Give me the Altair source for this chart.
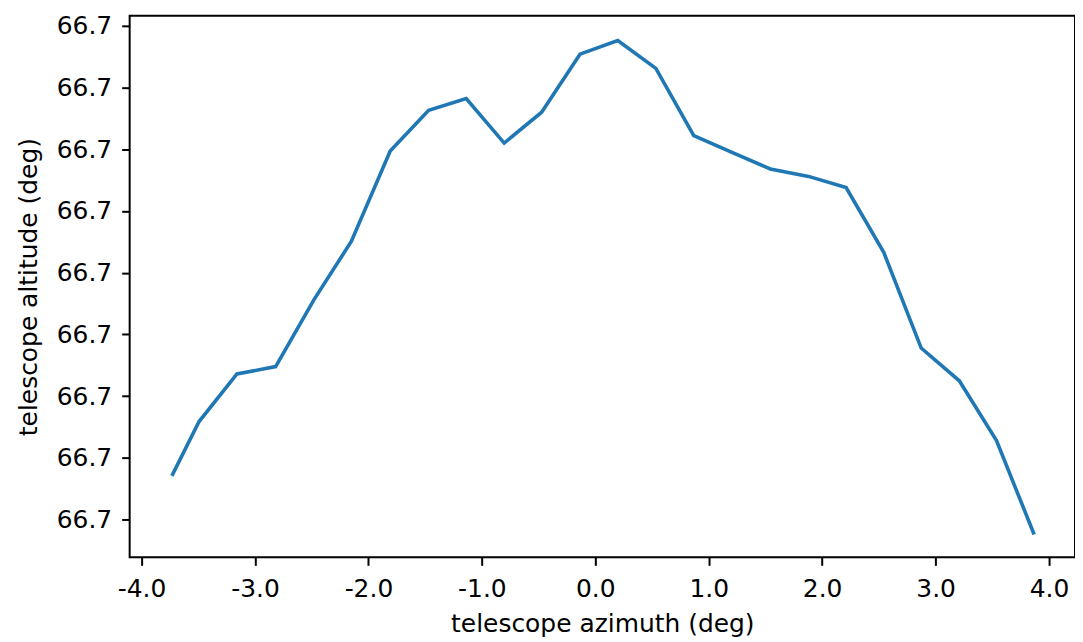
import altair as alt
import pandas as pd

azimuth = [-3.733, -3.493, -3.159, -2.818, -2.481, -2.150, -1.808, -1.469,
           -1.138, -0.803, -0.473, -0.135, 0.198, 0.534, 0.868, 1.205,
           1.543, 1.880, 2.211, 2.543, 2.873, 3.209, 3.537, 3.869]
altitude = [66.70000071, 66.70000159, 66.70000236, 66.70000248, 66.70000356,
            66.70000451, 66.70000597, 66.70000663, 66.70000682, 66.70000610,
            66.70000660, 66.70000754, 66.70000776, 66.70000731, 66.70000622,
            66.70000595, 66.70000568, 66.70000556, 66.70000538, 66.70000433,
            66.70000278, 66.70000225, 66.70000128, 66.69999976]
x_ticks = [-4.0, -3.0, -2.0, -1.0, 0.0, 1.0, 2.0, 3.0, 4.0]
y_ticks = [66.700000, 66.700001, 66.700002, 66.700003, 66.700004,
           66.700005, 66.700006, 66.700007, 66.700008]

df = pd.DataFrame({"az": azimuth, "alt": altitude})

FONT = "DejaVu Sans"
FS = 25

chart = alt.Chart(df).mark_line(color="#1f77b4", strokeWidth=3.6, clip=True).encode(
    x=alt.X("az:Q", title="telescope azimuth (deg)",
            scale=alt.Scale(domain=[-4.105, 4.229], nice=False, zero=False),
            axis=alt.Axis(values=x_ticks, grid=False, domain=False,
                          labelExpr="(datum.value < 0 ? '-' : '') + format(abs(datum.value), '.1f')",
                          tickSize=8, tickWidth=2, tickColor="black",
                          labelPadding=11, labelColor="black", titleColor="black",
                          titlePadding=10, labelFlush=False)),
    y=alt.Y("alt:Q", title="telescope altitude (deg)",
            scale=alt.Scale(domain=[66.69999939, 66.70000816], nice=False, zero=False),
            axis=alt.Axis(values=y_ticks, format=".1f", grid=False, domain=False,
                          tickSize=8, tickWidth=2, tickColor="black",
                          labelPadding=10, labelColor="black", titleColor="black",
                          titlePadding=15, labelFlush=False)),
    order=alt.Order("az:Q"),
).properties(
    width=948, height=543,
    autosize=alt.AutoSizeParams(type="none"),
    padding={"left": 122, "top": 7, "right": 0, "bottom": 84},
).configure_view(
    stroke="black", strokeWidth=2
).configure_axis(
    labelFont=FONT, titleFont=FONT, labelFontSize=FS, titleFontSize=FS,
    titleFontWeight="normal",
)

chart.save("out.html", embed_options={"renderer": "svg", "actions": False})
